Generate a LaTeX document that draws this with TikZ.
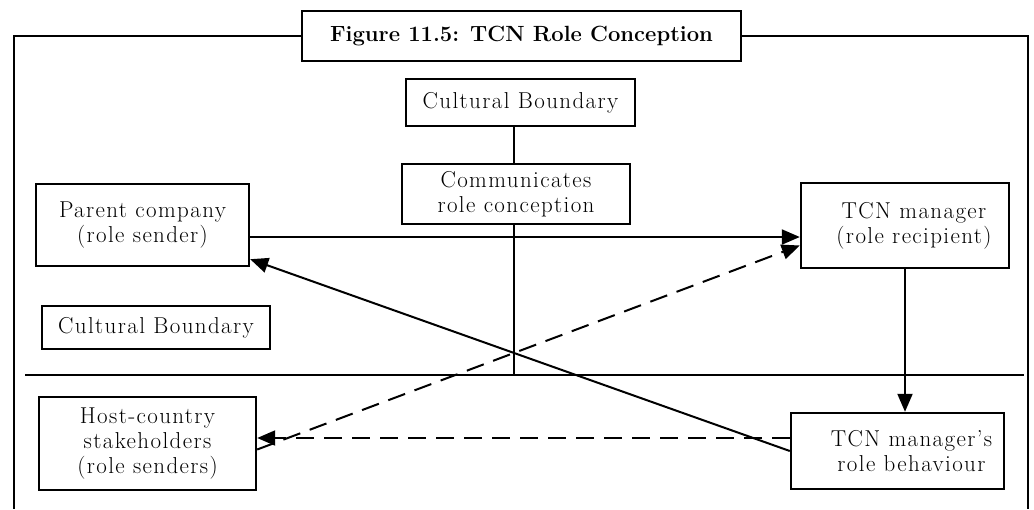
\documentclass[tikz,border=0pt]{standalone}
\usepackage{fontspec}
\setmainfont{Latin Modern Roman}[LetterSpace=6]
\newfontfamily\titlefont{Latin Modern Roman}
\usetikzlibrary{arrows.meta}
\tikzset{
  box/.style={draw, line width=2.4pt, align=center, inner sep=0pt,
    font=\fontsize{23}{25}\selectfont},
  link/.style={line width=2pt},
  tip/.style={-{Triangle[length=18pt,width=15pt]}},
  dashlink/.style={line width=2pt, dash pattern=on 18pt off 10pt},
}
\begin{document}
\begin{tikzpicture}[x=1pt,y=-1pt]
    \useasboundingbox (0,0) rectangle (1034,509);

    % title and outer frame
    \node[box, minimum width=439pt, minimum height=50pt,
      font=\titlefont\fontsize{22}{26}\selectfont\bfseries] (title) at (521.5,36)
      {Figure 11.5: TCN Role Conception};
    \coordinate (frameNW) at (14,36);
    \coordinate (frameSW) at (14,509);
    \coordinate (frameNE) at (1028,36);
    \coordinate (frameSE) at (1028,509);
    \draw[link] (title.west) -- (frameNW) -- (frameSW);
    \draw[link] (title.east) -- (frameNE) -- (frameSE);

    % boxes
    \node[box, minimum width=229pt, minimum height=47pt] (cbtop) at (520.5,102.5)
      {Cultural Boundary};
    \node[box, minimum width=228pt, minimum height=60pt] (comm) at (516,194)
      {Communicates\\role conception};
    \node[box, minimum width=213pt, minimum height=82pt] (parent) at (142.5,225)
      {Parent company\\(role sender)};
    \node[box, minimum width=208pt, minimum height=85pt] (tcn) at (905,225.5)
      {\hspace*{18pt}TCN manager\\\hspace*{18pt}(role recipient)};
    \node[box, minimum width=228pt, minimum height=43pt] (cbleft) at (156,327.5)
      {Cultural Boundary};
    \node[box, minimum width=217pt, minimum height=93pt] (host) at (147.5,443.5)
      {Host-country\\stakeholders\\(role senders)};
    \node[box, minimum width=213pt, minimum height=76pt] (behav) at (897.5,451)
      {\hspace*{28pt}TCN manager's\\\hspace*{28pt}role behaviour};

    % cultural boundary lines
    \coordinate (spine) at (514,375);
    \coordinate (bndL) at (25,375);
    \coordinate (bndR) at (1024,375);
    \draw[link] (cbtop.south -| spine) -- (comm.north -| spine);
    \draw[link] (comm.south -| spine) -- (spine);
    \draw[link] (bndL) -- (bndR);

    % role sending
    \draw[link, tip] ([yshift=-12pt]parent.east) -- ([yshift=-12pt]parent.east -| tcn.west);
    \draw[link, tip] (tcn.south) -- (tcn.south |- behav.north);
    \draw[link, tip] (behav.west) -- ([yshift=8pt]parent.south east);

    % host-country expectations
    \draw[dashlink, tip] ([yshift=-6pt]host.east) -- ([yshift=-20pt]tcn.west);
    \draw[dashlink, tip] ([yshift=13pt]behav.west) -- ([yshift=13pt]behav.west -| host.east);

\end{tikzpicture}
\end{document}
